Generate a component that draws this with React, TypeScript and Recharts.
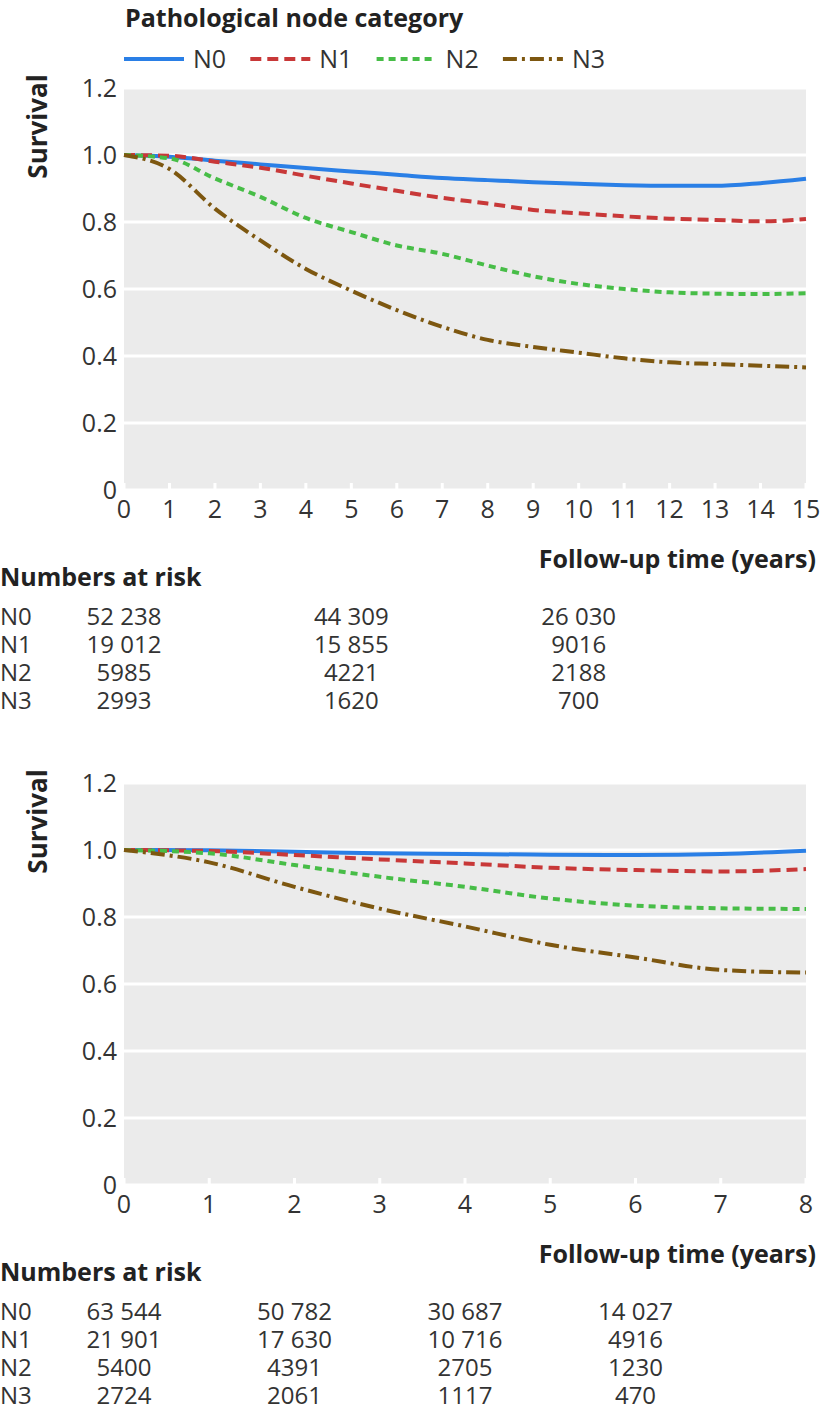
import { LineChart, Line, XAxis, YAxis, CartesianGrid } from 'recharts';

const groups = ['N0', 'N1', 'N2', 'N3'];

// Panel 1: 0-15 years
const yearsTop = [0, 1, 2, 3, 4, 5, 6, 7, 8, 9, 10, 11, 12, 13, 14, 15];
const n0Top = [1.0, 0.995, 0.983, 0.972, 0.961, 0.951, 0.941, 0.931, 0.925, 0.919, 0.914, 0.91, 0.908, 0.908, 0.916, 0.929];
const n1Top = [1.0, 0.998, 0.98, 0.962, 0.938, 0.915, 0.893, 0.872, 0.855, 0.836, 0.826, 0.817, 0.81, 0.806, 0.802, 0.809];
const n2Top = [1.0, 0.99, 0.93, 0.875, 0.812, 0.77, 0.73, 0.705, 0.67, 0.638, 0.615, 0.6, 0.59, 0.586, 0.585, 0.587];
const n3Top = [1.0, 0.958, 0.84, 0.745, 0.66, 0.595, 0.537, 0.487, 0.448, 0.427, 0.41, 0.393, 0.381, 0.376, 0.371, 0.366];

const riskTimesTop = [0, 5, 10];
const riskN0Top = ['52 238', '44 309', '26 030'];
const riskN1Top = ['19 012', '15 855', '9016'];
const riskN2Top = ['5985', '4221', '2188'];
const riskN3Top = ['2993', '1620', '700'];

// Panel 2: 0-8 years
const yearsBottom = [0, 1, 2, 3, 4, 5, 6, 7, 8];
const n0Bottom = [1.0, 0.999, 0.995, 0.99, 0.988, 0.986, 0.985, 0.988, 0.998];
const n1Bottom = [1.0, 0.997, 0.985, 0.972, 0.96, 0.947, 0.94, 0.936, 0.943];
const n2Bottom = [1.0, 0.99, 0.955, 0.92, 0.89, 0.855, 0.834, 0.826, 0.824];
const n3Bottom = [1.0, 0.963, 0.89, 0.825, 0.772, 0.717, 0.679, 0.642, 0.634];

const riskTimesBottom = [0, 2, 4, 6];
const riskN0Bottom = ['63 544', '50 782', '30 687', '14 027'];
const riskN1Bottom = ['21 901', '17 630', '10 716', '4916'];
const riskN2Bottom = ['5400', '4391', '2705', '1230'];
const riskN3Bottom = ['2724', '2061', '1117', '470'];

const yTicks = [0, 0.2, 0.4, 0.6, 0.8, 1.0, 1.2];

const FONT = '"Open Sans", "DejaVu Sans", sans-serif';
const TEXT = '#333333';
const STYLES = [
  { color: '#2a7fe6', dash: undefined },
  { color: '#c83838', dash: '11 6' },
  { color: '#47bd47', dash: '7 5' },
  { color: '#7d5710', dash: '14 5 3 5' },
];

const PLOT_LEFT = 124;
const PLOT_W = 682;
const PLOT_BOTTOM = 490;

function Panel({ top, years, series, riskTimes, riskRows, showLegend }: any) {
  const maxT = years[years.length - 1];
  const data = years.map((t: number, i: number) => {
    const row: any = { t };
    groups.forEach((g, k) => (row[g] = series[k][i]));
    return row;
  });
  const xOf = (t: number) => PLOT_LEFT + (t / maxT) * PLOT_W;

  return (
    <div style={{ position: 'absolute', left: 0, top, width: 820, height: 720 }}>
      <LineChart width={820} height={540} data={data} margin={{ top: 88, right: 14, bottom: 20, left: 0 }}>
        <CartesianGrid vertical={false} fill="#ebebeb" stroke="#ffffff" strokeWidth={3} />
        <XAxis
          dataKey="t"
          type="number"
          domain={[0, maxT]}
          ticks={years}
          interval={0}
          height={30}
          axisLine={false}
          tickLine={{ stroke: '#ffffff', strokeWidth: 3 }}
          tickSize={-7}
          tickMargin={17}
          tick={{ fill: TEXT, fontSize: 25, fontFamily: FONT }}
        />
        <YAxis
          type="number"
          domain={[0, 1.2]}
          ticks={yTicks}
          width={124}
          axisLine={false}
          tickLine={false}
          tickSize={0}
          tickMargin={7}
          tickFormatter={(v: number) => (v === 0 ? '0' : v.toFixed(1))}
          tick={{ fill: TEXT, fontSize: 25, fontFamily: FONT }}
        />
        {groups.map((g, k) => (
          <Line
            key={g}
            dataKey={g}
            type="monotone"
            stroke={STYLES[k].color}
            strokeWidth={4}
            strokeDasharray={STYLES[k].dash}
            dot={false}
            activeDot={false}
            isAnimationActive={false}
          />
        ))}
      </LineChart>
      <svg
        width={820}
        height={720}
        style={{ position: 'absolute', left: 0, top: 0, pointerEvents: 'none', fontFamily: FONT }}
      >
        {showLegend && (
          <g>
            <text x={125} y={27} fontSize={25} fontWeight={700} fill="#222">
              Pathological node category
            </text>
            {groups.map((g, k) => {
              const x0 = 124 + k * 126.3;
              return (
                <g key={g}>
                  <line
                    x1={x0}
                    x2={x0 + 60}
                    y1={59}
                    y2={59}
                    stroke={STYLES[k].color}
                    strokeWidth={4}
                    strokeDasharray={STYLES[k].dash}
                  />
                  <text x={x0 + 69} y={68} fontSize={25} fill={TEXT}>
                    {g}
                  </text>
                </g>
              );
            })}
          </g>
        )}
        <text
          transform="translate(47,126.5) rotate(-90)"
          textAnchor="middle"
          fontSize={26}
          fontWeight={700}
          fill="#222"
        >
          Survival
        </text>
        <text x={816} y={PLOT_BOTTOM + 78} textAnchor="end" fontSize={25} fontWeight={700} fill="#222">
          Follow-up time (years)
        </text>
        <text x={0} y={PLOT_BOTTOM + 96} fontSize={25} fontWeight={700} fill="#222">
          Numbers at risk
        </text>
        {riskRows.map((row: string[], r: number) => (
          <g key={groups[r]}>
            <text x={0} y={PLOT_BOTTOM + 135 + r * 28} fontSize={24} fill={TEXT}>
              {groups[r]}
            </text>
            {row.map((val, j) => (
              <text key={j} x={xOf(riskTimes[j])} y={PLOT_BOTTOM + 135 + r * 28} textAnchor="middle" fontSize={24} fill={TEXT}>
                {val}
              </text>
            ))}
          </g>
        ))}
      </svg>
    </div>
  );
}

export default function App() {
  return (
    <div style={{ position: 'absolute', left: 0, top: 0, width: 820, height: 1412, background: '#ffffff' }}>
      <Panel
        top={0}
        years={yearsTop}
        series={[n0Top, n1Top, n2Top, n3Top]}
        riskTimes={riskTimesTop}
        riskRows={[riskN0Top, riskN1Top, riskN2Top, riskN3Top]}
        showLegend
      />
      <Panel
        top={695}
        years={yearsBottom}
        series={[n0Bottom, n1Bottom, n2Bottom, n3Bottom]}
        riskTimes={riskTimesBottom}
        riskRows={[riskN0Bottom, riskN1Bottom, riskN2Bottom, riskN3Bottom]}
        showLegend={false}
      />
    </div>
  );
}
